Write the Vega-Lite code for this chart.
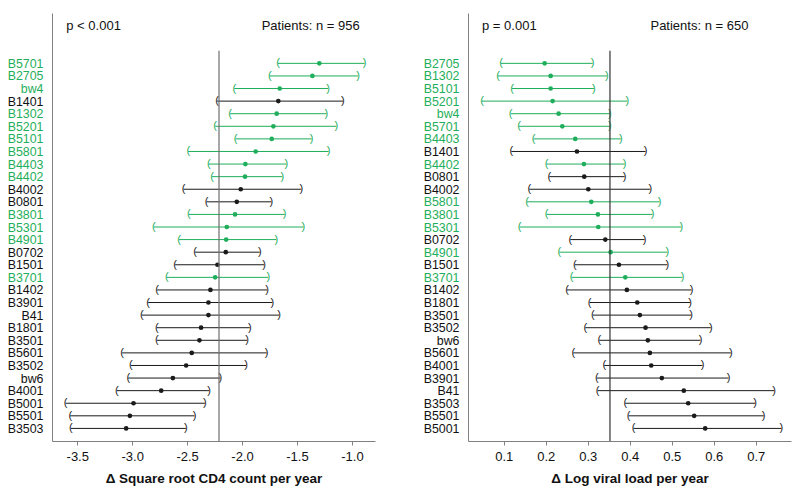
{
  "$schema": "https://vega.github.io/schema/vega-lite/v6.json",
  "padding": {"left": 7, "top": 13, "right": 5, "bottom": 5},
  "bounds": "flush",
  "spacing": 93,
  "background": "white",
  "config": {
    "view": {"stroke": null},
    "font": "Liberation Sans",
    "axis": {"labelFont": "Liberation Sans", "titleFont": "Liberation Sans", "grid": false, "domainColor": "#808080", "tickColor": "#808080", "labelColor": "#111111", "titleColor": "#111111"},
    "text": {"font": "Liberation Sans"}
  },
  "resolve": {"scale": {"x": "independent", "y": "independent", "color": "shared"}},
  "datasets": {
    "cd4": [
      {"allele": "B5701", "est": -1.297, "lo": -1.673, "hi": -0.885, "sig": "yes"},
      {"allele": "B2705", "est": -1.36, "lo": -1.748, "hi": -0.945, "sig": "yes"},
      {"allele": "bw4", "est": -1.657, "lo": -2.07, "hi": -1.218, "sig": "yes"},
      {"allele": "B1401", "est": -1.67, "lo": -2.227, "hi": -1.082, "sig": "no"},
      {"allele": "B1302", "est": -1.685, "lo": -2.109, "hi": -1.233, "sig": "yes"},
      {"allele": "B5201", "est": -1.715, "lo": -2.245, "hi": -1.142, "sig": "yes"},
      {"allele": "B5101", "est": -1.73, "lo": -2.058, "hi": -1.367, "sig": "yes"},
      {"allele": "B5801", "est": -1.876, "lo": -2.49, "hi": -1.212, "sig": "yes"},
      {"allele": "B4403", "est": -1.97, "lo": -2.303, "hi": -1.597, "sig": "yes"},
      {"allele": "B4402", "est": -1.973, "lo": -2.273, "hi": -1.633, "sig": "yes"},
      {"allele": "B4002", "est": -2.012, "lo": -2.533, "hi": -1.461, "sig": "no"},
      {"allele": "B0801", "est": -2.048, "lo": -2.324, "hi": -1.733, "sig": "no"},
      {"allele": "B3801", "est": -2.064, "lo": -2.485, "hi": -1.612, "sig": "yes"},
      {"allele": "B5301", "est": -2.139, "lo": -2.803, "hi": -1.442, "sig": "yes"},
      {"allele": "B4901", "est": -2.145, "lo": -2.573, "hi": -1.688, "sig": "yes"},
      {"allele": "B0702", "est": -2.148, "lo": -2.427, "hi": -1.839, "sig": "no"},
      {"allele": "B1501", "est": -2.224, "lo": -2.609, "hi": -1.8, "sig": "no"},
      {"allele": "B3701", "est": -2.245, "lo": -2.685, "hi": -1.761, "sig": "yes"},
      {"allele": "B1402", "est": -2.288, "lo": -2.773, "hi": -1.773, "sig": "no"},
      {"allele": "B3901", "est": -2.306, "lo": -2.855, "hi": -1.724, "sig": "no"},
      {"allele": "B41", "est": -2.306, "lo": -2.912, "hi": -1.664, "sig": "no"},
      {"allele": "B1801", "est": -2.373, "lo": -2.776, "hi": -1.93, "sig": "no"},
      {"allele": "B3501", "est": -2.388, "lo": -2.776, "hi": -1.955, "sig": "no"},
      {"allele": "B5601", "est": -2.458, "lo": -3.091, "hi": -1.776, "sig": "no"},
      {"allele": "B3502", "est": -2.509, "lo": -3.012, "hi": -1.964, "sig": "no"},
      {"allele": "bw6", "est": -2.63, "lo": -3.036, "hi": -2.197, "sig": "no"},
      {"allele": "B4001", "est": -2.736, "lo": -3.139, "hi": -2.3, "sig": "no"},
      {"allele": "B5001", "est": -2.988, "lo": -3.606, "hi": -2.339, "sig": "no"},
      {"allele": "B5501", "est": -3.021, "lo": -3.564, "hi": -2.433, "sig": "no"},
      {"allele": "B3503", "est": -3.055, "lo": -3.558, "hi": -2.512, "sig": "no"}
    ],
    "vl": [
      {"allele": "B2705", "est": 0.1975, "lo": 0.0936, "hi": 0.3117, "sig": "yes"},
      {"allele": "B1302", "est": 0.2118, "lo": 0.0865, "hi": 0.3457, "sig": "yes"},
      {"allele": "B5101", "est": 0.2118, "lo": 0.1198, "hi": 0.3148, "sig": "yes"},
      {"allele": "B5201", "est": 0.2165, "lo": 0.0484, "hi": 0.3941, "sig": "yes"},
      {"allele": "bw4", "est": 0.2308, "lo": 0.1166, "hi": 0.3528, "sig": "yes"},
      {"allele": "B5701", "est": 0.2395, "lo": 0.1365, "hi": 0.3528, "sig": "yes"},
      {"allele": "B4403", "est": 0.2704, "lo": 0.1713, "hi": 0.379, "sig": "yes"},
      {"allele": "B1401", "est": 0.2744, "lo": 0.1182, "hi": 0.4377, "sig": "no"},
      {"allele": "B4402", "est": 0.291, "lo": 0.2023, "hi": 0.3878, "sig": "yes"},
      {"allele": "B0801", "est": 0.2918, "lo": 0.2086, "hi": 0.3878, "sig": "no"},
      {"allele": "B4002", "est": 0.3014, "lo": 0.1611, "hi": 0.4488, "sig": "no"},
      {"allele": "B5801", "est": 0.3085, "lo": 0.1555, "hi": 0.471, "sig": "yes"},
      {"allele": "B3801", "est": 0.3243, "lo": 0.2023, "hi": 0.4543, "sig": "yes"},
      {"allele": "B5301", "est": 0.3252, "lo": 0.138, "hi": 0.5226, "sig": "yes"},
      {"allele": "B0702", "est": 0.3419, "lo": 0.2586, "hi": 0.4353, "sig": "no"},
      {"allele": "B4901", "est": 0.3545, "lo": 0.2324, "hi": 0.4893, "sig": "yes"},
      {"allele": "B1501", "est": 0.3743, "lo": 0.2696, "hi": 0.4893, "sig": "no"},
      {"allele": "B3701", "est": 0.3894, "lo": 0.2617, "hi": 0.5257, "sig": "yes"},
      {"allele": "B1402", "est": 0.3932, "lo": 0.2506, "hi": 0.5471, "sig": "no"},
      {"allele": "B1801", "est": 0.418, "lo": 0.3045, "hi": 0.544, "sig": "no"},
      {"allele": "B3501", "est": 0.4242, "lo": 0.3124, "hi": 0.5464, "sig": "no"},
      {"allele": "B3502", "est": 0.4377, "lo": 0.2943, "hi": 0.593, "sig": "no"},
      {"allele": "bw6", "est": 0.4432, "lo": 0.3276, "hi": 0.5685, "sig": "no"},
      {"allele": "B5601", "est": 0.448, "lo": 0.2657, "hi": 0.6406, "sig": "no"},
      {"allele": "B4001", "est": 0.4512, "lo": 0.3395, "hi": 0.5732, "sig": "no"},
      {"allele": "B3901", "est": 0.4765, "lo": 0.3219, "hi": 0.6351, "sig": "no"},
      {"allele": "B41", "est": 0.5288, "lo": 0.3235, "hi": 0.7437, "sig": "no"},
      {"allele": "B3503", "est": 0.5392, "lo": 0.3894, "hi": 0.6986, "sig": "no"},
      {"allele": "B5501", "est": 0.5535, "lo": 0.3973, "hi": 0.719, "sig": "no"},
      {"allele": "B5001", "est": 0.5797, "lo": 0.4091, "hi": 0.7611, "sig": "no"}
    ],
    "notes": [
      {"panel": "cd4", "side": "left", "label": "p < 0.001", "pos": -3.6, "row": "_a"},
      {"panel": "cd4", "side": "right", "label": "Patients: n = 956", "pos": -0.93, "row": "_a"},
      {"panel": "vl", "side": "left", "label": "p = 0.001", "pos": 0.0484, "row": "_a"},
      {"panel": "vl", "side": "right", "label": "Patients: n = 650", "pos": 0.6826, "row": "_a"}
    ],
    "refs": [
      {"panel": "cd4", "mean": -2.21, "row": "_c"},
      {"panel": "vl", "mean": 0.353, "row": "_c"}
    ]
  },
  "hconcat": [
    {
      "width": 323,
      "height": 428,
      "layer": [
        {
          "data": {"name": "cd4"},
          "mark": {"type": "rule", "strokeWidth": 1},
          "encoding": {
            "x": {"field": "lo", "type": "quantitative", "scale": {"domain": [-3.73, -0.79], "nice": false, "zero": false},
              "axis": {"values": [-3.5, -3, -2.5, -2, -1.5, -1], "labelExpr": "datum.value % 1 == 0 ? datum.value + '.0' : '' + datum.value", "title": "Δ Square root CD4 count per year", "titleFontSize": 13.5, "titleFontWeight": "bold", "titlePadding": 8, "labelFontSize": 13, "labelPadding": 5, "tickSize": 4, "labelFlush": false}},
            "x2": {"field": "hi"},
            "y": {"field": "allele", "type": "nominal", "sort": null,
              "scale": {"type": "point", "padding": 1.1, "domain": ["_a", "_b", "_c", "B5701", "B2705", "bw4", "B1401", "B1302", "B5201", "B5101", "B5801", "B4403", "B4402", "B4002", "B0801", "B3801", "B5301", "B4901", "B0702", "B1501", "B3701", "B1402", "B3901", "B41", "B1801", "B3501", "B5601", "B3502", "bw6", "B4001", "B5001", "B5501", "B3503"]},
              "axis": {"title": null, "ticks": false, "labelPadding": 9, "labelFontSize": 12.4, "labelOverlap": false, "labelExpr": "indexof(datum.value, '_') == 0 ? '' : datum.value",
                "labelColor": {"condition": {"test": "indexof(['B5701','B2705','bw4','B1302','B5201','B5101','B5801','B4403','B4402','B3801','B5301','B4901','B3701'], datum.value) >= 0", "value": "#1fae5b"}, "value": "#111111"}}},
            "color": {"field": "sig", "type": "nominal", "scale": {"domain": ["yes", "no"], "range": ["#1fae5b", "#1a1a1a"]}, "legend": null}
          }
        },
        {
          "data": {"name": "cd4"},
          "mark": {"type": "text", "text": "(", "fontSize": 11, "baseline": "middle", "align": "center", "opacity": 0.99},
          "encoding": {"x": {"field": "lo", "type": "quantitative"}, "y": {"field": "allele", "type": "nominal"}, "color": {"field": "sig", "type": "nominal", "scale": {"domain": ["yes", "no"], "range": ["#1fae5b", "#1a1a1a"]}, "legend": null}}
        },
        {
          "data": {"name": "cd4"},
          "mark": {"type": "text", "text": ")", "fontSize": 11, "baseline": "middle", "align": "center", "opacity": 0.99},
          "encoding": {"x": {"field": "hi", "type": "quantitative"}, "y": {"field": "allele", "type": "nominal"}, "color": {"field": "sig", "type": "nominal", "scale": {"domain": ["yes", "no"], "range": ["#1fae5b", "#1a1a1a"]}, "legend": null}}
        },
        {
          "data": {"name": "cd4"},
          "mark": {"type": "point", "filled": true, "size": 22, "opacity": 1},
          "encoding": {"x": {"field": "est", "type": "quantitative"}, "y": {"field": "allele", "type": "nominal"}, "color": {"field": "sig", "type": "nominal", "scale": {"domain": ["yes", "no"], "range": ["#1fae5b", "#1a1a1a"]}, "legend": null}}
        },
        {
          "data": {"name": "refs"},
          "transform": [{"filter": "datum.panel == 'cd4'"}],
          "mark": {"type": "rule", "color": "#6e6e6e", "strokeWidth": 1.2},
          "encoding": {"x": {"field": "mean", "type": "quantitative"}, "y": {"field": "row", "type": "nominal"}, "y2": {"value": "height"}}
        },
        {
          "data": {"name": "notes"},
          "transform": [{"filter": "datum.panel == 'cd4' && datum.side == 'left'"}],
          "mark": {"type": "text", "align": "left", "baseline": "middle", "fontSize": 13, "color": "#111111"},
          "encoding": {"x": {"field": "pos", "type": "quantitative"}, "y": {"field": "row", "type": "nominal"}, "text": {"field": "label"}}
        },
        {
          "data": {"name": "notes"},
          "transform": [{"filter": "datum.panel == 'cd4' && datum.side == 'right'"}],
          "mark": {"type": "text", "align": "right", "baseline": "middle", "fontSize": 13, "color": "#111111"},
          "encoding": {"x": {"field": "pos", "type": "quantitative"}, "y": {"field": "row", "type": "nominal"}, "text": {"field": "label"}}
        }
      ]
    },
    {
      "width": 323,
      "height": 428,
      "layer": [
        {
          "data": {"name": "vl"},
          "mark": {"type": "rule", "strokeWidth": 1},
          "encoding": {
            "x": {"field": "lo", "type": "quantitative", "scale": {"domain": [0.015, 0.784], "nice": false, "zero": false},
              "axis": {"values": [0.1, 0.2, 0.3, 0.4, 0.5, 0.6, 0.7], "format": ".1f", "title": "Δ Log viral load per year", "titleFontSize": 13.5, "titleFontWeight": "bold", "titlePadding": 8, "labelFontSize": 13, "labelPadding": 5, "tickSize": 4, "labelFlush": false}},
            "x2": {"field": "hi"},
            "y": {"field": "allele", "type": "nominal", "sort": null,
              "scale": {"type": "point", "padding": 1.1, "domain": ["_a", "_b", "_c", "B2705", "B1302", "B5101", "B5201", "bw4", "B5701", "B4403", "B1401", "B4402", "B0801", "B4002", "B5801", "B3801", "B5301", "B0702", "B4901", "B1501", "B3701", "B1402", "B1801", "B3501", "B3502", "bw6", "B5601", "B4001", "B3901", "B41", "B3503", "B5501", "B5001"]},
              "axis": {"title": null, "ticks": false, "labelPadding": 9, "labelFontSize": 12.4, "labelOverlap": false, "labelExpr": "indexof(datum.value, '_') == 0 ? '' : datum.value",
                "labelColor": {"condition": {"test": "indexof(['B5701','B2705','bw4','B1302','B5201','B5101','B5801','B4403','B4402','B3801','B5301','B4901','B3701'], datum.value) >= 0", "value": "#1fae5b"}, "value": "#111111"}}},
            "color": {"field": "sig", "type": "nominal", "scale": {"domain": ["yes", "no"], "range": ["#1fae5b", "#1a1a1a"]}, "legend": null}
          }
        },
        {
          "data": {"name": "vl"},
          "mark": {"type": "text", "text": "(", "fontSize": 11, "baseline": "middle", "align": "center", "opacity": 0.99},
          "encoding": {"x": {"field": "lo", "type": "quantitative"}, "y": {"field": "allele", "type": "nominal"}, "color": {"field": "sig", "type": "nominal", "scale": {"domain": ["yes", "no"], "range": ["#1fae5b", "#1a1a1a"]}, "legend": null}}
        },
        {
          "data": {"name": "vl"},
          "mark": {"type": "text", "text": ")", "fontSize": 11, "baseline": "middle", "align": "center", "opacity": 0.99},
          "encoding": {"x": {"field": "hi", "type": "quantitative"}, "y": {"field": "allele", "type": "nominal"}, "color": {"field": "sig", "type": "nominal", "scale": {"domain": ["yes", "no"], "range": ["#1fae5b", "#1a1a1a"]}, "legend": null}}
        },
        {
          "data": {"name": "vl"},
          "mark": {"type": "point", "filled": true, "size": 22, "opacity": 1},
          "encoding": {"x": {"field": "est", "type": "quantitative"}, "y": {"field": "allele", "type": "nominal"}, "color": {"field": "sig", "type": "nominal", "scale": {"domain": ["yes", "no"], "range": ["#1fae5b", "#1a1a1a"]}, "legend": null}}
        },
        {
          "data": {"name": "refs"},
          "transform": [{"filter": "datum.panel == 'vl'"}],
          "mark": {"type": "rule", "color": "#333333", "strokeWidth": 1.2},
          "encoding": {"x": {"field": "mean", "type": "quantitative"}, "y": {"field": "row", "type": "nominal"}, "y2": {"value": "height"}}
        },
        {
          "data": {"name": "notes"},
          "transform": [{"filter": "datum.panel == 'vl' && datum.side == 'left'"}],
          "mark": {"type": "text", "align": "left", "baseline": "middle", "fontSize": 13, "color": "#111111"},
          "encoding": {"x": {"field": "pos", "type": "quantitative"}, "y": {"field": "row", "type": "nominal"}, "text": {"field": "label"}}
        },
        {
          "data": {"name": "notes"},
          "transform": [{"filter": "datum.panel == 'vl' && datum.side == 'right'"}],
          "mark": {"type": "text", "align": "right", "baseline": "middle", "fontSize": 13, "color": "#111111"},
          "encoding": {"x": {"field": "pos", "type": "quantitative"}, "y": {"field": "row", "type": "nominal"}, "text": {"field": "label"}}
        }
      ]
    }
  ]
}
